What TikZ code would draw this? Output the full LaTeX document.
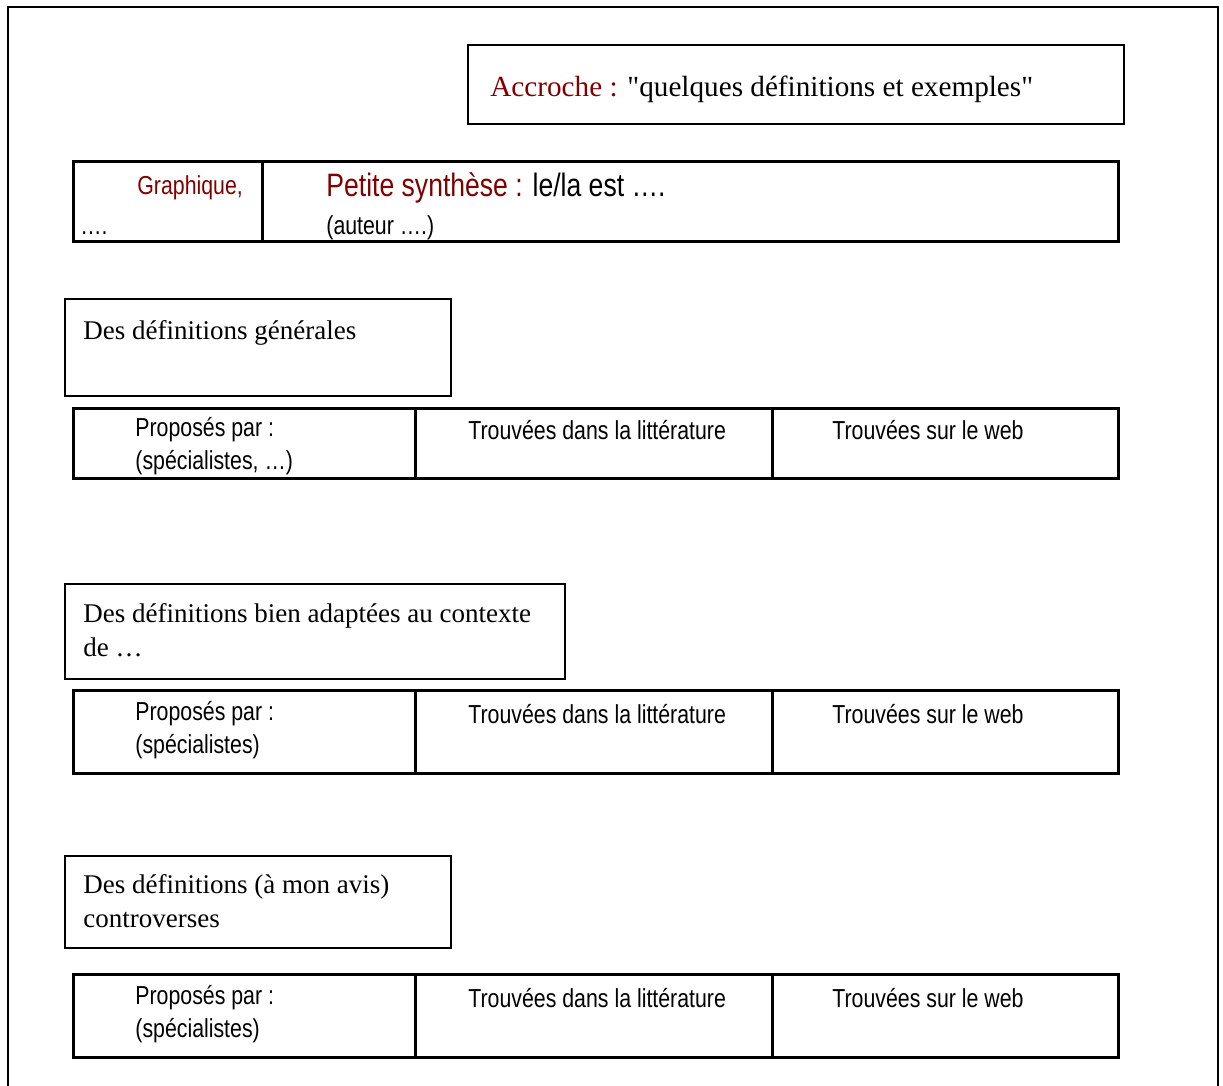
\documentclass[tikz,border=0pt]{standalone}
\usepackage{fontspec}
\setmainfont[Ligatures=TeXOff]{Liberation Serif}
\newfontfamily\narrowsans[FakeStretch=0.82]{Liberation Sans}
\usetikzlibrary{positioning}
\definecolor{accroche}{HTML}{800000}

\begin{document}
\begin{tikzpicture}[x=0.5pt,y=-0.5pt,
  txt/.style={anchor=west,inner sep=0pt,align=left},
  cell/.style={txt,font=\narrowsans\fontsize{13}{16.5}\selectfont},
  boxtxt/.style={txt,font=\fontsize{13.5}{17}\selectfont}]
  \useasboundingbox (0,0) rectangle (1223,1086);
  % cadre
  \draw[line width=1pt] (8,1086) -- (8,7) -- (1218,7) -- (1218,1086);

  % accroche
  \draw[line width=1pt] (468,45) rectangle (1124,124);
  \node[txt,font=\fontsize{14.6}{18}\selectfont] (accr) at (490,89)
    {\textcolor{accroche}{Accroche :} "quelques définitions et exemples"};

  % petite synthese
  \draw[line width=1.5pt] (73,162) rectangle (1118,242);
  \draw[line width=1.5pt] (262,162) -- (262,242);
  \node[cell,accroche] (graph) at (137,188) {Graphique,};
  \node[cell] (graphdots) at (80,233) {….};
  \node[txt,font=\narrowsans\fontsize{16.2}{18}\selectfont] (synth) at (326,188)
    {\textcolor{accroche}{Petite synthèse :} le/la est ….};
  \node[cell] (auteur) at (326,228) {(auteur ….)};

  % definitions generales
  \draw[line width=0.9pt] (65,299) rectangle (451,396);
  \node[boxtxt] (gen) at (83,333) {Des définitions générales};
  \draw[line width=1.5pt] (73,408) rectangle (1118,478);
  \draw[line width=1.5pt] (415,408) -- (415,478) (772,408) -- (772,478);
  \node[cell] (genprop) at (135,446.5) {Proposés par :\\(spécialistes, …)};
  \node[cell] (genlit) at (468,430) {Trouvées dans la littérature};
  \node[cell] (genweb) at (832,430) {Trouvées sur le web};

  % definitions adaptees
  \draw[line width=0.9pt] (65,584) rectangle (565,679);
  \node[boxtxt] (adapt) at (83,630) {Des définitions bien adaptées au contexte\\de …};
  \draw[line width=1.5pt] (73,690) rectangle (1118,773);
  \draw[line width=1.5pt] (415,690) -- (415,773) (772,690) -- (772,773);
  \node[cell] (adaptprop) at (135,730.5) {Proposés par :\\(spécialistes)};
  \node[cell] (adaptlit) at (468,714) {Trouvées dans la littérature};
  \node[cell] (adaptweb) at (832,714) {Trouvées sur le web};

  % definitions controversees
  \draw[line width=0.9pt] (65,856) rectangle (451,948);
  \node[boxtxt] (contr) at (83,901) {Des définitions (à mon avis)\\controverses};
  \draw[line width=1.5pt] (73,974) rectangle (1118,1057);
  \draw[line width=1.5pt] (415,974) -- (415,1057) (772,974) -- (772,1057);
  \node[cell] (contrprop) at (135,1014.5) {Proposés par :\\(spécialistes)};
  \node[cell] (contrlit) at (468,998) {Trouvées dans la littérature};
  \node[cell] (contrweb) at (832,998) {Trouvées sur le web};
\end{tikzpicture}
\end{document}
